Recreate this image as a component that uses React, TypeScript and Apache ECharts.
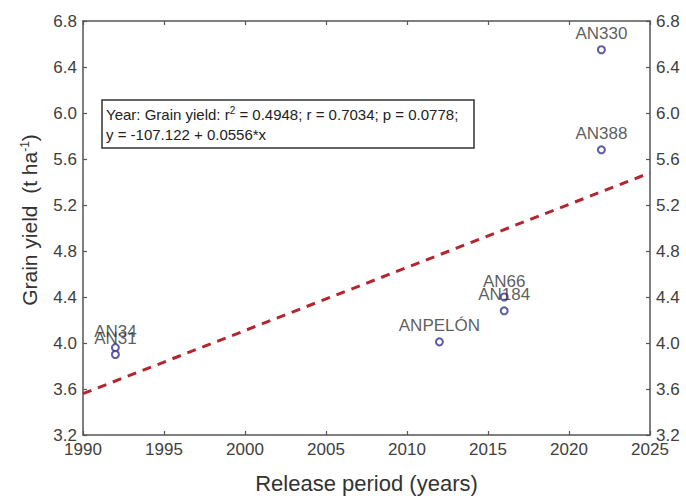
import React, { useEffect, useRef } from "react";
import * as echarts from "echarts";

const cultivars = ["AN34", "AN31", "ANPELÓN", "AN66", "AN184", "AN388", "AN330"];
const releaseYears = [1992, 1992, 2012, 2016, 2016, 2022, 2022];
const grainYield = [3.96, 3.90, 4.01, 4.40, 4.28, 5.68, 6.55];
const trendYears = [1990, 2025];
const trendYield = [3.56, 5.48];
const xTicks = { min: 1990, max: 2025, interval: 5 };
const yTicks = { min: 3.2, max: 6.8, interval: 0.4 };

const FONT = "Liberation Sans, Arial, sans-serif";

export default function App() {
  const ref = useRef<HTMLDivElement>(null);
  useEffect(() => {
    if (!ref.current) return;
    const chart = echarts.init(ref.current, null, { renderer: "svg" });
    const axisLine = { show: true, lineStyle: { color: "#555", width: 1.5 } };
    const axisTick = { show: true, inside: true, length: 4, lineStyle: { color: "#555", width: 1.2 } };
    const labelStyle = { color: "#404040", fontSize: 17, fontFamily: FONT };
    chart.setOption({
      animation: false,
      backgroundColor: "#fff",
      grid: { left: 83, right: 36, top: 21, bottom: 62 },
      xAxis: [
        {
          type: "value",
          position: "bottom",
          min: xTicks.min,
          max: xTicks.max,
          interval: xTicks.interval,
          axisLine,
          axisTick,
          splitLine: { show: false },
          axisLabel: { ...labelStyle, margin: 6, showMaxLabel: true, showMinLabel: true, formatter: (v: number) => String(v) },
          name: "Release period (years)",
          nameLocation: "middle",
          nameGap: 37,
          nameTextStyle: { color: "#333", fontSize: 22, fontFamily: FONT },
        },
        {
          type: "value",
          position: "top",
          min: xTicks.min,
          max: xTicks.max,
          interval: xTicks.interval,
          axisLine,
          axisTick,
          splitLine: { show: false },
          axisLabel: { show: false },
        },
      ],
      yAxis: [
        {
          type: "value",
          position: "left",
          min: yTicks.min,
          max: yTicks.max,
          interval: yTicks.interval,
          axisLine,
          axisTick,
          splitLine: { show: false },
          axisLabel: { ...labelStyle, margin: 6, formatter: (v: number) => v.toFixed(1) },
        },
        {
          type: "value",
          position: "right",
          min: yTicks.min,
          max: yTicks.max,
          interval: yTicks.interval,
          axisLine,
          axisTick,
          splitLine: { show: false },
          axisLabel: { ...labelStyle, margin: 6, formatter: (v: number) => v.toFixed(1) },
        },
      ],
      graphic: [
        {
          type: "text",
          x: 29,
          y: 220,
          rotation: Math.PI / 2,
          style: {
            text: "Grain yield  (t ha{sup|-1})",
            fill: "#333",
            fontSize: 21,
            fontFamily: FONT,
            align: "center",
            verticalAlign: "middle",
            rich: {
              sup: { fontSize: 12, verticalAlign: "top", fill: "#333", fontFamily: FONT, padding: [0, 0, 9, 0] },
            },
          },
        },
        {
          type: "rect",
          shape: { x: 102, y: 100, width: 372, height: 48 },
          style: { fill: "#fff", stroke: "#333", lineWidth: 1.5 },
          z: 10,
        },
        {
          type: "text",
          x: 106,
          y: 104,
          z: 11,
          style: {
            text: "Year: Grain yield: r{sup|2} = 0.4948; r = 0.7034; p = 0.0778;\ny = -107.122 + 0.0556*x",
            fill: "#222",
            fontSize: 15,
            lineHeight: 20,
            fontFamily: FONT,
            rich: {
              sup: { fontSize: 10, fill: "#222", fontFamily: FONT, padding: [0, 0, 7, 0] },
            },
          },
        },
      ],
      series: [
        {
          type: "line",
          data: trendYears.map((x, i) => [x, trendYield[i]]),
          symbol: "none",
          lineStyle: { color: "#b3262e", width: 3, type: [9, 7] },
          z: 2,
        },
        {
          type: "scatter",
          data: cultivars.map((n, i) => ({ name: n, value: [releaseYears[i], grainYield[i]] })),
          symbol: "emptyCircle",
          symbolSize: 7,
          itemStyle: { color: "#33338f", borderColor: "#33338f", borderWidth: 1 },
          label: {
            show: true,
            position: "top",
            distance: 3,
            formatter: (p: any) => p.name,
            color: "#333",
            fontSize: 17,
            fontFamily: FONT,
          },
          z: 3,
        },
      ],
    });
    return () => chart.dispose();
  }, []);
  return <div ref={ref} style={{ width: 686, height: 499, position: "absolute", left: 0, top: 0 }} />;
}
